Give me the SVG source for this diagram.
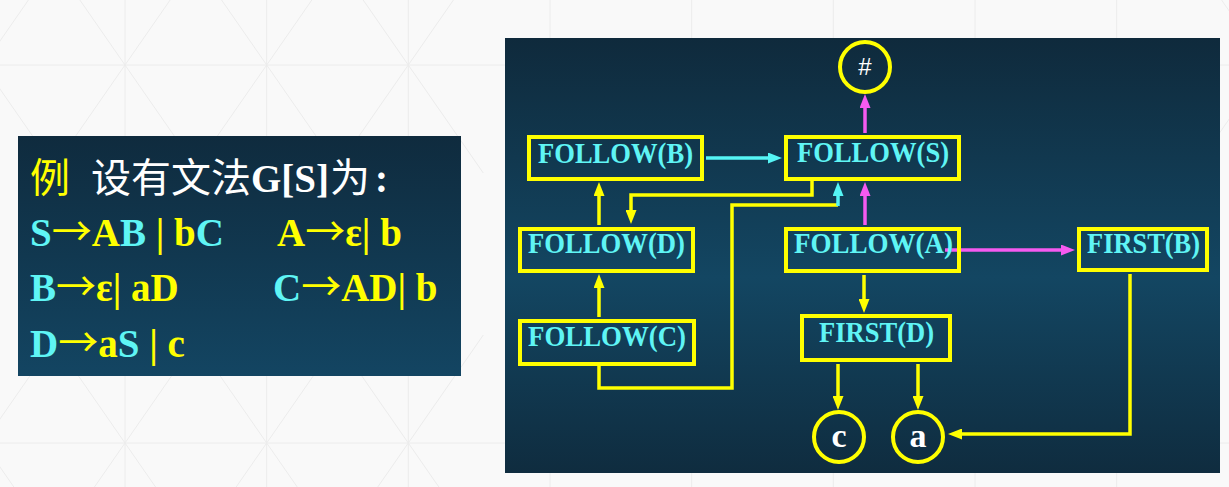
<svg xmlns="http://www.w3.org/2000/svg" width="1229" height="487" viewBox="0 0 1229 487">
<defs>
<linearGradient id="gL" x1="0" y1="0" x2="0" y2="1">
<stop offset="0" stop-color="#0f2b3e"/><stop offset="1" stop-color="#134562"/>
</linearGradient>
<linearGradient id="gR" x1="0" y1="0" x2="0" y2="1">
<stop offset="0" stop-color="#0f2a3c"/><stop offset="0.55" stop-color="#134662"/><stop offset="1" stop-color="#0f2c3f"/>
</linearGradient>
<marker id="aY" markerUnits="userSpaceOnUse" markerWidth="14" markerHeight="11" refX="9" refY="5.5" orient="auto"><path d="M0,0 L14,5.5 L0,11 z" fill="#ffff00"/></marker>
<marker id="aC" markerUnits="userSpaceOnUse" markerWidth="14" markerHeight="11" refX="9" refY="5.5" orient="auto"><path d="M0,0 L14,5.5 L0,11 z" fill="#55f5f5"/></marker>
<marker id="aM" markerUnits="userSpaceOnUse" markerWidth="14" markerHeight="11" refX="9" refY="5.5" orient="auto"><path d="M0,0 L14,5.5 L0,11 z" fill="#f55af0"/></marker>
</defs>
<style>
.bg{stroke:#ececec;stroke-width:1;fill:none}
.box{fill:none;stroke:#ffff00;stroke-width:4}
.lbl{font-family:"Liberation Serif","Times New Roman",serif;font-weight:bold;font-size:30px;fill:#5ff5f5}
.cir{fill:none;stroke:#ffff00;stroke-width:4}
.ct{font-family:"Liberation Serif",serif;font-weight:bold;font-size:34px;fill:#ffffff;text-anchor:middle}
.y{stroke:#ffff00;stroke-width:3.5;fill:none}
.c{stroke:#55f5f5;stroke-width:3.5;fill:none}
.m{stroke:#f55af0;stroke-width:3.5;fill:none}
.g{font-family:"Liberation Serif","Times New Roman",serif;font-weight:bold;font-size:39px}
.cn{font-family:"Noto Sans CJK SC",sans-serif;font-weight:normal;font-size:40px}
.ar{font-family:"Noto Sans CJK SC",sans-serif;font-weight:normal;font-size:40px}
.Y{fill:#ffff00}
.C{fill:#5ff5f5}
.W{fill:#ffffff}
</style>
<rect width="1229" height="487" fill="#f9f9f9"/>
<g id="background-pattern">
<path class="bg" d="M125,0V487M266.7,0V487M408.3,0V487M550,0V487M691.7,0V487M833.3,0V487M975,0V487M1116.7,0V487M0,65H1229M0,443H1229"/>
<path class="bg" d="M50,-43L200,173M200,-43L50,173M191.7,-43L341.7,173M341.7,-43L191.7,173M333.3,-43L483.3,173M483.3,-43L333.3,173M1191.7,-43L1341.7,173M1341.7,-43L1191.7,173M50,335L200,551M200,335L50,551M191.7,335L341.7,551M341.7,335L191.7,551M333.3,335L483.3,551M483.3,335L333.3,551M-91.7,335L58.3,551M58.3,335L-91.7,551M-91.7,-43L58.3,173M58.3,-43L-91.7,173"/>
</g>
<g id="grammar-panel">
<rect x="18" y="136" width="443" height="240" fill="url(#gL)"/>
<text y="192"><tspan class="cn Y" x="30">例</tspan><tspan class="cn W" x="91">设有文法</tspan><tspan class="g W" x="251">G[S]</tspan><tspan class="cn W" x="330">为</tspan><tspan class="g W" x="375">:</tspan></text>
<text class="g" y="246" x="30"><tspan class="C">S</tspan><tspan class="ar Y">→</tspan><tspan class="Y">A</tspan><tspan class="C">B</tspan><tspan class="Y"> | b</tspan><tspan class="C">C</tspan></text>
<text class="g Y" y="246" x="277">A<tspan class="ar">→</tspan>ε| b</text>
<text class="g" y="301" x="30"><tspan class="C">B</tspan><tspan class="ar Y">→</tspan><tspan class="Y">ε| aD</tspan></text>
<text class="g" y="301" x="273"><tspan class="C">C</tspan><tspan class="ar Y">→</tspan><tspan class="Y">AD| b</tspan></text>
<text class="g" y="357" x="30"><tspan class="C">D</tspan><tspan class="ar Y">→</tspan><tspan class="Y">a</tspan><tspan class="C">S</tspan><tspan class="Y"> | c</tspan></text>
</g>
<rect x="505" y="38" width="715" height="435" fill="url(#gR)"/>
<g id="connectors">
<line class="m" x1="865" y1="133" x2="865" y2="99" marker-end="url(#aM)"/>
<line class="c" x1="706" y1="158" x2="777" y2="158" marker-end="url(#aC)"/>
<line class="m" x1="865" y1="225" x2="865" y2="187" marker-end="url(#aM)"/>
<polyline class="y" points="812,181 812,195 631,195 631,219" marker-end="url(#aY)"/>
<polyline class="y" points="599,366 599,388 732,388 732,205 838,205"/>
<line class="c" x1="838" y1="206" x2="838" y2="187" marker-end="url(#aC)"/>
<line class="y" x1="599" y1="225" x2="599" y2="187" marker-end="url(#aY)"/>
<line class="y" x1="599" y1="317" x2="599" y2="279" marker-end="url(#aY)"/>
<line class="m" x1="945" y1="250" x2="1070" y2="250" marker-end="url(#aM)"/>
<line class="y" x1="864" y1="275" x2="864" y2="308" marker-end="url(#aY)"/>
<line class="y" x1="838" y1="364" x2="838" y2="405" marker-end="url(#aY)"/>
<line class="y" x1="918" y1="364" x2="918" y2="405" marker-end="url(#aY)"/>
<polyline class="y" points="1130,274 1130,434 953,434" marker-end="url(#aY)"/>
</g>
<g id="hash"><circle class="cir" cx="865" cy="67" r="25"/><text x="865" y="75" font-family="Liberation Sans,sans-serif" font-size="24" fill="#ffffff" text-anchor="middle">#</text></g>
<g id="follow-b"><rect class="box" x="529" y="137" width="173" height="42"/><text class="lbl" x="538" y="163" textLength="155" lengthAdjust="spacingAndGlyphs">FOLLOW(B)</text></g>
<g id="follow-s"><rect class="box" x="786" y="137" width="173" height="42"/><text class="lbl" x="797" y="162" textLength="152" lengthAdjust="spacingAndGlyphs">FOLLOW(S)</text></g>
<g id="follow-d"><rect class="box" x="520" y="229" width="173" height="42"/><text class="lbl" x="528" y="253" textLength="157" lengthAdjust="spacingAndGlyphs">FOLLOW(D)</text></g>
<g id="follow-a"><rect class="box" x="786" y="229" width="173" height="42"/><text class="lbl" x="794" y="253" textLength="159" lengthAdjust="spacingAndGlyphs">FOLLOW(A)</text></g>
<g id="first-b"><rect class="box" x="1079" y="229" width="128" height="41"/><text class="lbl" x="1087" y="253" textLength="113" lengthAdjust="spacingAndGlyphs">FIRST(B)</text></g>
<g id="first-d"><rect class="box" x="802" y="316" width="148" height="44"/><text class="lbl" x="819" y="342" textLength="115" lengthAdjust="spacingAndGlyphs">FIRST(D)</text></g>
<g id="follow-c"><rect class="box" x="520" y="321" width="174" height="43"/><text class="lbl" x="528" y="346" textLength="158" lengthAdjust="spacingAndGlyphs">FOLLOW(C)</text></g>
<g id="node-c"><circle class="cir" cx="839" cy="437" r="25"/><text class="ct" x="839" y="447">c</text></g>
<g id="node-a"><circle class="cir" cx="918" cy="437" r="25"/><text class="ct" x="918" y="447">a</text></g>
</svg>
